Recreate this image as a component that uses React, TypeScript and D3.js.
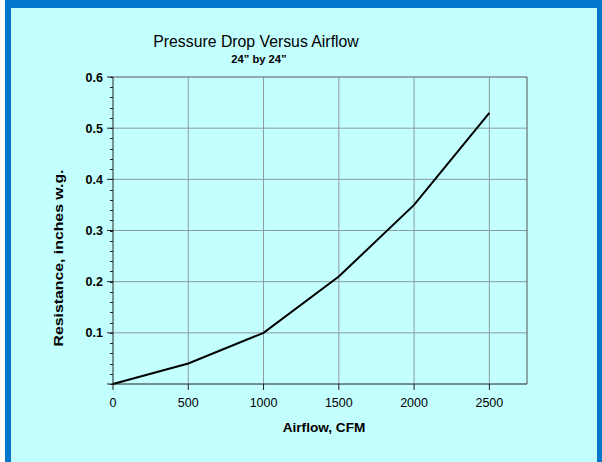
import { useEffect, useRef } from 'react'
import * as d3 from 'd3'

const airflow = [0, 500, 1000, 1500, 2000, 2500]
const resistance = [0, 0.04, 0.1, 0.21, 0.35, 0.53]
const xTicks = [0, 500, 1000, 1500, 2000, 2500]
const yTicks = [0.1, 0.2, 0.3, 0.4, 0.5, 0.6]
const yMinor = d3.range(0, 0.6001, 0.02)

const W = 602
const H = 462

export default function App() {
  const svgRef = useRef<SVGSVGElement>(null)

  useEffect(() => {
    if (!svgRef.current) return
    const svg = d3.select(svgRef.current)
    svg.selectAll('*').remove()

    const left = 113, right = 527, top = 77, bottom = 384
    const x = d3.scaleLinear().domain([0, 2750]).range([left, right])
    const y = d3.scaleLinear().domain([0, 0.6]).range([bottom, top])
    const font = 'Arial, "Liberation Sans", sans-serif'

    // frame
    svg.append('rect').attr('width', W).attr('height', H).attr('fill', '#ffffff')
    svg.append('rect').attr('x', 5).attr('y', 0).attr('width', W - 5).attr('height', H).attr('fill', '#0077cc')
    svg.append('rect').attr('x', 11).attr('y', 8).attr('width', 586).attr('height', H).attr('fill', '#c4ffff')

    // grid
    svg.selectAll('line.vg')
      .data(xTicks.filter(d => d > 0))
      .enter()
      .append('line')
      .attr('x1', d => x(d)).attr('x2', d => x(d))
      .attr('y1', top).attr('y2', bottom)
      .attr('stroke', '#8c9a9a').attr('stroke-width', 1)
    svg.selectAll('line.hg')
      .data(yTicks)
      .enter()
      .append('line')
      .attr('x1', left).attr('x2', right)
      .attr('y1', d => y(d)).attr('y2', d => y(d))
      .attr('stroke', '#8c9a9a').attr('stroke-width', 1)

    // plot border
    svg.append('line').attr('x1', left).attr('x2', right).attr('y1', top).attr('y2', top)
      .attr('stroke', '#7a8585')
    svg.append('line').attr('x1', right).attr('x2', right).attr('y1', top).attr('y2', bottom)
      .attr('stroke', '#555')

    // y axis
    svg.append('line').attr('x1', left).attr('x2', left).attr('y1', top).attr('y2', bottom)
      .attr('stroke', '#222')
    svg.selectAll('line.ym')
      .data(yMinor)
      .enter()
      .append('line')
      .attr('x1', left - 3).attr('x2', left)
      .attr('y1', d => Math.round(y(d)) + 0.5).attr('y2', d => Math.round(y(d)) + 0.5)
      .attr('stroke', '#222')
    svg.selectAll('line.yt')
      .data(yTicks.concat([0]))
      .enter()
      .append('line')
      .attr('x1', left - 6).attr('x2', left)
      .attr('y1', d => y(d)).attr('y2', d => y(d))
      .attr('stroke', '#222')
    svg.selectAll('text.yl')
      .data(yTicks)
      .enter()
      .append('text')
      .attr('x', left - 10)
      .attr('y', d => y(d) + 4.5)
      .attr('text-anchor', 'end')
      .attr('font-family', font)
      .attr('font-size', '12.5px')
      .attr('font-weight', 'bold')
      .attr('fill', '#000')
      .text(d => d3.format('.1f')(d))

    // x axis
    svg.append('line').attr('x1', left).attr('x2', right).attr('y1', bottom).attr('y2', bottom)
      .attr('stroke', '#222')
    svg.selectAll('line.xt')
      .data(xTicks)
      .enter()
      .append('line')
      .attr('x1', d => x(d)).attr('x2', d => x(d))
      .attr('y1', bottom).attr('y2', bottom + 6)
      .attr('stroke', '#222')
    svg.selectAll('text.xl')
      .data(xTicks)
      .enter()
      .append('text')
      .attr('x', d => x(d))
      .attr('y', 407)
      .attr('text-anchor', 'middle')
      .attr('font-family', font)
      .attr('font-size', '12.5px')
      .attr('fill', '#000')
      .text(d => d)

    // curve
    const line = d3.line<number>()
      .x(i => x(airflow[i]))
      .y(i => y(resistance[i]))
    svg.append('path')
      .datum(d3.range(airflow.length))
      .attr('d', line)
      .attr('fill', 'none')
      .attr('stroke', '#000')
      .attr('stroke-width', 2)

    // titles
    svg.append('text')
      .attr('x', 256).attr('y', 47)
      .attr('text-anchor', 'middle')
      .attr('font-family', font).attr('font-size', '15.8px')
      .text('Pressure Drop Versus Airflow')
    svg.append('text')
      .attr('x', 259).attr('y', 63)
      .attr('text-anchor', 'middle')
      .attr('font-family', font).attr('font-size', '11.2px').attr('font-weight', 'bold')
      .text('24\u201d by 24\u201d')
    svg.append('text')
      .attr('x', 324).attr('y', 432)
      .attr('text-anchor', 'middle')
      .attr('font-family', font).attr('font-size', '13.6px').attr('font-weight', 'bold')
      .text('Airflow, CFM')
    svg.append('text')
      .attr('transform', 'translate(63,258) rotate(-90)')
      .attr('text-anchor', 'middle')
      .attr('font-family', font).attr('font-size', '13.6px').attr('font-weight', 'bold')
      .attr('textLength', 177).attr('lengthAdjust', 'spacingAndGlyphs')
      .text('Resistance, inches w.g.')
  }, [])

  return (
    <svg ref={svgRef} width={W} height={H}
      style={{ position: 'absolute', left: 0, top: 0, display: 'block' }} />
  )
}
